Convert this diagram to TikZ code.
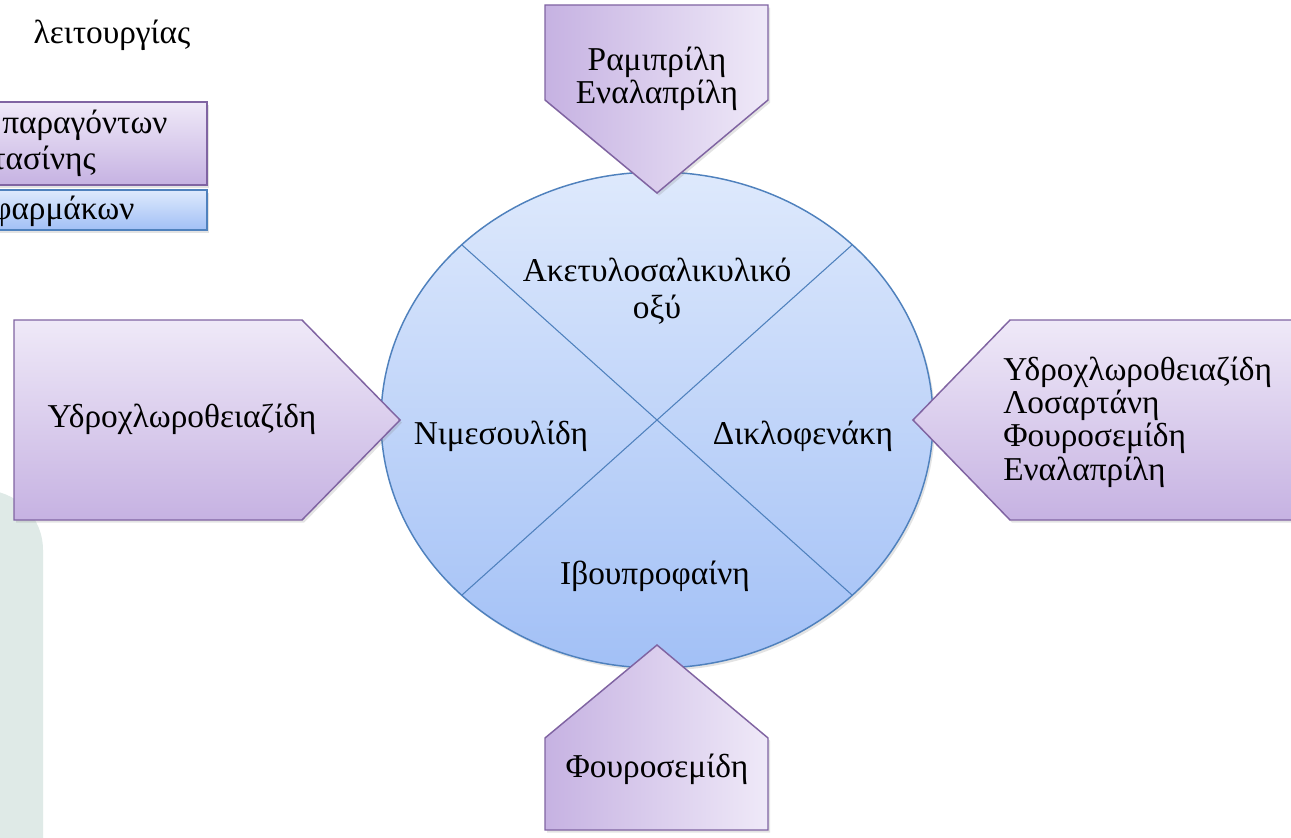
\documentclass[tikz,border=0pt]{standalone}
\usepackage{fontspec}
\setmainfont{Liberation Serif}
\usetikzlibrary{shadows}
\definecolor{pborder}{HTML}{8064A2}
\definecolor{plight}{HTML}{EFE9F8}
\definecolor{pdark}{HTML}{C6B2E2}
\definecolor{bborder}{HTML}{4F81BD}
\definecolor{blight}{HTML}{DEE9FC}
\definecolor{bdark}{HTML}{A2C0F6}
\definecolor{greenbg}{HTML}{DFEAE7}
\begin{document}
\begin{tikzpicture}[x=0.75pt,y=-0.75pt,
  shd/.style={drop shadow={opacity=0.22,shadow xshift=1.5pt,shadow yshift=-2pt}},
  pshape/.style={draw=pborder, line width=1.1pt, line join=miter, shd},
  bshape/.style={draw=bborder, line width=1.1pt, shd},
  lbl/.style={font=\fontsize{25}{25}\selectfont, inner sep=0pt, align=center},
  llbl/.style={font=\fontsize{25}{25}\selectfont, inner sep=0pt, align=left},
]
\useasboundingbox (0,0) rectangle (1291,838);
\clip (0,0) rectangle (1291,838);
\fill[white] (0,0) rectangle (1291,838);

% faint background panel at the left edge
\fill[greenbg, rounded corners=45pt] (-100,490) rectangle (43,900);

% top-left fragments
\node[lbl, anchor=center] (tl) at (112,35) {λειτουργίας};
\path[pshape, top color=plight, bottom color=pdark] (-20,102) rectangle (207,185);
\path[bshape, top color=blight, bottom color=bdark] (-20,190) rectangle (207,230);
\node[lbl, anchor=base west] (tl1) at (2,134) {παραγόντων};
\node[lbl, anchor=base west] (tl2) at (-8,170) {τασίνης};
\node[lbl, anchor=base west] (tl3) at (-8,219) {φαρμάκων};

% central circle
\path[draw=bborder, line width=1.1pt, top color=blight, bottom color=bdark, shd]
  (657,420) ellipse [x radius=207pt, y radius=186pt];
\coordinate (c) at (657,420);
\coordinate (ul) at (462,245);
\coordinate (ur) at (852,245);
\coordinate (ll) at (462,595);
\coordinate (lr) at (852,595);
\draw[bborder, line width=0.8pt] (ul) -- (lr);
\draw[bborder, line width=0.8pt] (ur) -- (ll);

% arrow pentagons
\path[pshape, top color=plight, bottom color=pdark]
  (14,320) -- (302,320) -- (400,420) -- (302,520) -- (14,520) -- cycle;
\path[pshape, top color=plight, bottom color=pdark]
  (1299,320) -- (1010,320) -- (913,420) -- (1010,520) -- (1299,520) -- cycle;
\path[pshape, left color=pdark, right color=plight]
  (545,5) -- (768,5) -- (768,100) -- (657,193) -- (545,100) -- cycle;
\path[pshape, left color=pdark, right color=plight]
  (545,830) -- (545,738) -- (657,645) -- (768,738) -- (768,830) -- cycle;

% circle labels
\node[lbl, font=\fontsize{25}{28}\selectfont] (asa) at (657,291) {Ακετυλοσαλικυλικό\\οξύ};
\node[lbl] (nim) at (501,436) {Νιμεσουλίδη};
\node[lbl] (dic) at (803,436) {Δικλοφενάκη};
\node[lbl] (ibu) at (655,576) {Ιβουπροφαίνη};

% pentagon labels
\node[lbl] (left) at (182,419) {Υδροχλωροθειαζίδη};
\node[lbl] (top) at (657,79) {Ραμιπρίλη\\Εναλαπρίλη};
\node[lbl] (bot) at (657,769) {Φουροσεμίδη};
\node[llbl, anchor=west] (right) at (1003,422) {Υδροχλωροθειαζίδη\\Λοσαρτάνη\\Φουροσεμίδη\\Εναλαπρίλη};
\end{tikzpicture}
\end{document}
